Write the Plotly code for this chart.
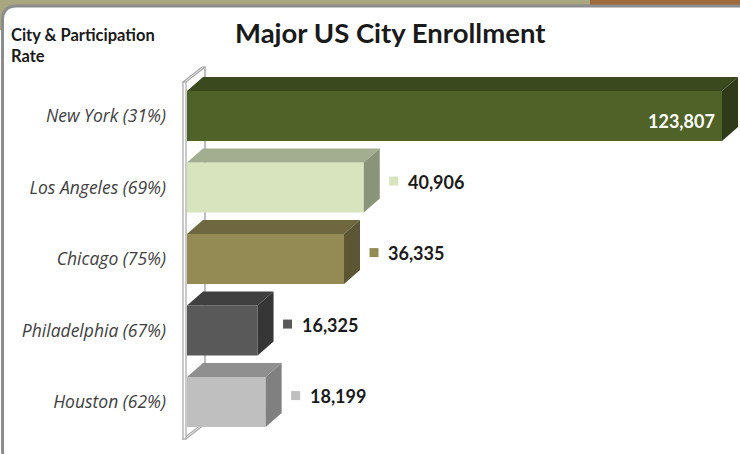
import plotly.graph_objects as go

# ---- data ----
cities = ["New York (31%)", "Los Angeles (69%)", "Chicago (75%)", "Philadelphia (67%)", "Houston (62%)"]
enrollment = [123807, 40906, 36335, 16325, 18199]
value_labels = ["123,807", "40,906", "36,335", "16,325", "18,199"]
front_colors = ["#4f6228", "#d7e4bd", "#948a54", "#595959", "#bfbfbf"]
top_colors = ["#3b4a1e", "#a3ad8f", "#6e6740", "#404040", "#8f8f8f"]
side_colors = ["#2f3b18", "#8a9478", "#5c5634", "#363636", "#808080"]

# ---- geometry (layout) ----
FW, FH = 740, 454
L, R, T, B = 170, 0, 45, 9
PW, PH = FW - L - R, FH - T - B
XMIN, XMAX = -3934, 127971
UPX = (XMAX - XMIN) / PW          # data units per pixel (x)
YTOP, YBOT = -0.993, 4.601
VPX = (YBOT - YTOP) / PH          # data units per pixel (y)
DX = 16 * UPX                     # 3D depth, x
DD = 14 * VPX                     # 3D depth, y (upward)
HALF = 0.35

def px2paper_x(px):
    return (px - L) / PW

def px2paper_y(py):
    return 1 - (py - T) / PH

fig = go.Figure()

# front faces
fig.add_trace(go.Bar(
    x=enrollment, y=list(range(len(cities))), orientation="h", width=2 * HALF,
    marker=dict(color=front_colors, line=dict(width=0)), hoverinfo="skip", showlegend=False,
))

# top & side faces computed from values
for i, v in enumerate(enrollment):
    yt = i - HALF
    yb = i + HALF
    fig.add_trace(go.Scatter(
        x=[0, DX, v + DX, v, 0], y=[yt, yt - DD, yt - DD, yt, yt],
        fill="toself", fillcolor=top_colors[i], mode="lines", line=dict(width=0, color=top_colors[i]),
        hoverinfo="skip", showlegend=False))
    fig.add_trace(go.Scatter(
        x=[v, v + DX, v + DX, v, v], y=[yt, yt - DD, yb - DD, yb, yt],
        fill="toself", fillcolor=side_colors[i], mode="lines", line=dict(width=0, color=side_colors[i]),
        hoverinfo="skip", showlegend=False))

# value labels
for i, v in enumerate(enrollment):
    if i == 0:
        fig.add_annotation(x=v - 5 * UPX, y=i + 0.07, text="<b>" + value_labels[i] + "</b>",
                           xanchor="right", yanchor="middle", showarrow=False,
                           font=dict(family="Lato", size=18, color="white"))
    else:
        fig.add_trace(go.Scatter(
            x=[v + DX + 14 * UPX], y=[i - 0.09], mode="markers",
            marker=dict(symbol="square", size=9, color=front_colors[i]),
            hoverinfo="skip", showlegend=False))
        fig.add_annotation(x=v + DX + 26 * UPX, y=i - 0.08, text="<b>" + value_labels[i] + "</b>",
                           xanchor="left", yanchor="middle", showarrow=False,
                           font=dict(family="Lato", size=18, color="#1a1a1a"))

# wall (back plane)
wall_col = "#a6a6a6"
wt, wb = -0.4755, 4.517
wx0, wx1 = -4 * UPX, -1 * UPX
wdx, wdd = 19 * UPX, 15 * VPX
shapes = [
    dict(type="line", xref="x", yref="y", x0=wx1 + wdx, x1=wx1 + wdx, y0=wt - wdd, y1=wb - wdd,
         line=dict(color=wall_col, width=1.5), layer="below"),
    dict(type="path", xref="x", yref="y",
         path=f"M {wx0},{wt} L {wx0 + wdx},{wt - wdd} L {wx1 + wdx},{wt - wdd} L {wx1},{wt} Z",
         line=dict(color=wall_col, width=1.2), fillcolor="white", layer="below"),
    dict(type="path", xref="x", yref="y",
         path=f"M {wx0},{wb} L {wx0 + wdx},{wb - wdd} L {wx1 + wdx},{wb - wdd} L {wx1},{wb} Z",
         line=dict(color=wall_col, width=1.2), fillcolor="white", layer="below"),
    dict(type="rect", xref="x", yref="y", x0=wx0, x1=wx1, y0=wt, y1=wb,
         line=dict(color=wall_col, width=1.2), fillcolor="white", layer="below"),
]

# frame / background
def rr_path(x0, y0, x1, y1, r):
    X = px2paper_x
    Y = px2paper_y
    return (f"M {X(x0 + r)},{Y(y0)} L {X(x1 - r)},{Y(y0)} Q {X(x1)},{Y(y0)} {X(x1)},{Y(y0 + r)} "
            f"L {X(x1)},{Y(y1 - r)} Q {X(x1)},{Y(y1)} {X(x1 - r)},{Y(y1)} "
            f"L {X(x0 + r)},{Y(y1)} Q {X(x0)},{Y(y1)} {X(x0)},{Y(y1 - r)} "
            f"L {X(x0)},{Y(y0 + r)} Q {X(x0)},{Y(y0)} {X(x0 + r)},{Y(y0)} Z")

bg_shapes = [
    dict(type="rect", xref="paper", yref="paper", x0=px2paper_x(0), x1=px2paper_x(590),
         y0=px2paper_y(0), y1=px2paper_y(30), fillcolor="#a9a77f", line=dict(width=0), layer="below"),
    dict(type="rect", xref="paper", yref="paper", x0=px2paper_x(590), x1=px2paper_x(740),
         y0=px2paper_y(0), y1=px2paper_y(30), fillcolor="#9f6a3a", line=dict(width=0), layer="below"),
    dict(type="path", xref="paper", yref="paper", path=rr_path(2.5, 6, 800, 464, 14),
         fillcolor="white", line=dict(color="#8c8c8c", width=3), layer="below"),
]

fig.update_layout(
    width=FW, height=FH,
    margin=dict(l=L, r=R, t=T, b=B),
    paper_bgcolor="white", plot_bgcolor="rgba(0,0,0,0)",
    shapes=bg_shapes + shapes,
    showlegend=False,
    xaxis=dict(range=[XMIN, XMAX], visible=False, fixedrange=True),
    yaxis=dict(range=[YBOT, YTOP], tickmode="array", tickvals=list(range(len(cities))),
               ticktext=cities, showgrid=False, zeroline=False, showline=False, ticks="",
               ticklabelstandoff=3,
               tickfont=dict(family="Open Sans", size=17.5, color="#404040", style="italic"),
               fixedrange=True),
    annotations=list(fig.layout.annotations) + [
        dict(xref="paper", yref="paper", x=px2paper_x(390), y=px2paper_y(33),
             text="<b>Major US City Enrollment</b>", showarrow=False, xanchor="center", yanchor="middle",
             font=dict(family="Lato", size=27.5, color="#1a1a1a")),
        dict(xref="paper", yref="paper", x=px2paper_x(9), y=px2paper_y(45),
             text="<b>City &amp; Participation<br>Rate</b>", showarrow=False, xanchor="left",
             yanchor="middle", align="left",
             font=dict(family="Lato", size=16.5, color="#1a1a1a")),
    ],
)

fig.write_html("out.html", config={"displayModeBar": False},
               post_script="document.body.style.margin='0';document.body.style.overflow='hidden';")
